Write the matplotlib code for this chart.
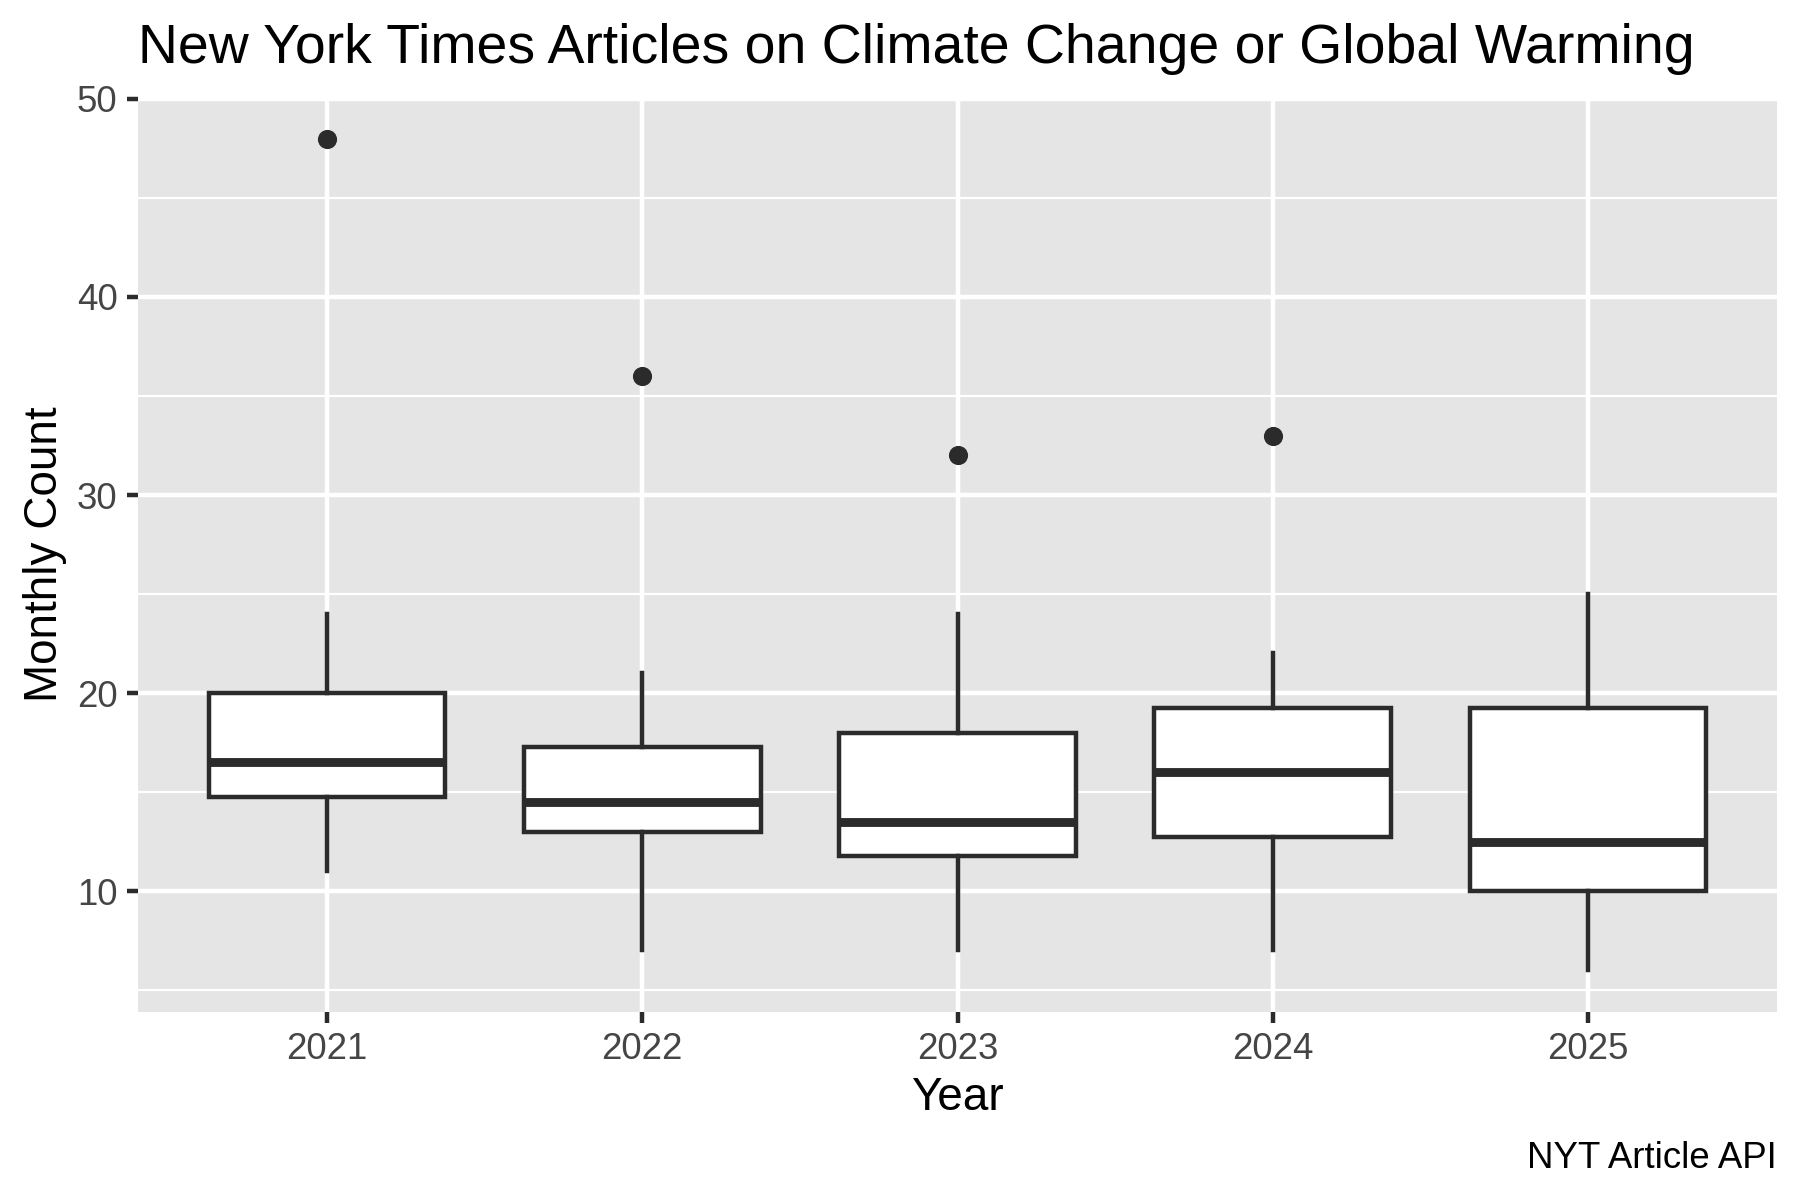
import matplotlib
matplotlib.use("Agg")
import matplotlib.pyplot as plt
from matplotlib.ticker import FixedLocator

plt.rcParams['font.family'] = ['Liberation Sans', 'DejaVu Sans']

# ---- data ----
years = ['2021', '2022', '2023', '2024', '2025']
whisker_low = [11, 7, 7, 7, 6]
q1 = [14.75, 13, 11.75, 12.75, 10]
median = [16.5, 14.5, 13.5, 16, 12.5]
q3 = [20, 17.25, 18, 19.25, 19.25]
whisker_high = [24, 21, 24, 22, 25]
outliers = [[48], [36], [32], [33], []]

title = "New York Times Articles on Climate Change or Global Warming"
xlabel = "Year"
ylabel = "Monthly Count"
caption = "NYT Article API"

stats = []
for i, y in enumerate(years):
    stats.append(dict(label=y, whislo=whisker_low[i], q1=q1[i], med=median[i],
                      q3=q3[i], whishi=whisker_high[i], fliers=outliers[i]))

fig = plt.figure(figsize=(6, 4), dpi=300)
ax = fig.add_axes([0.07667, 0.15683, 0.91055, 0.76233])
ax.set_facecolor('#E5E5E5')
for s in ax.spines.values():
    s.set_visible(False)

edge = '#2B2B2B'
positions = list(range(1, len(years) + 1))
ax.bxp(stats, positions=positions, widths=0.75, patch_artist=True, showcaps=False,
       boxprops=dict(facecolor='white', edgecolor=edge, linewidth=1.07),
       medianprops=dict(color=edge, linewidth=2.13, solid_capstyle='butt'),
       whiskerprops=dict(color=edge, linewidth=1.07),
       flierprops=dict(marker='o', markerfacecolor=edge, markeredgewidth=0,
                       markersize=4.6, linestyle='none'),
       zorder=3)

ax.set_xlim(0.4, 5.6)
ax.set_ylim(3.9, 50.1)
ax.set_xticks(positions)
ax.set_xticklabels(years)
ax.yaxis.set_major_locator(FixedLocator([10, 20, 30, 40, 50]))
ax.yaxis.set_minor_locator(FixedLocator([5, 15, 25, 35, 45]))
ax.set_axisbelow(True)
ax.grid(which='major', axis='both', color='white', linewidth=1.07)
ax.grid(which='minor', axis='y', color='white', linewidth=0.53)
ax.tick_params(axis='both', which='major', length=2.75, width=1.07, color=edge,
               labelsize=8.8, labelcolor='#454545', pad=2.2)
ax.tick_params(axis='y', which='minor', length=0)

ax.set_xlabel(xlabel, fontsize=11, color='black')
ax.xaxis.label.set_va('baseline')
ax.xaxis.set_label_coords(0.5, -0.1075)
ax.set_ylabel(ylabel, fontsize=11, color='black', rotation=90,
              rotation_mode='anchor', va='baseline', ha='center')
ax.yaxis.set_label_coords(-0.0494, 0.5)

fig.text(138 / 1800, 1 - 63 / 1200, title, fontsize=13.3, color='black',
         ha='left', va='baseline')
fig.text(1777 / 1800, 1 - 1168 / 1200, caption, fontsize=8.8, color='black',
         ha='right', va='baseline')

fig.savefig('out.png', dpi=300)
